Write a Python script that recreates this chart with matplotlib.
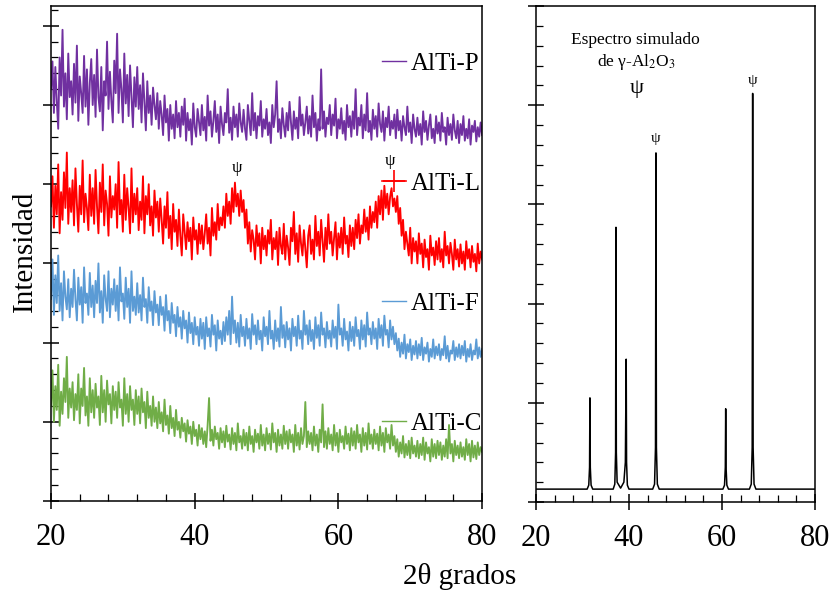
import numpy as np
import matplotlib
matplotlib.use("Agg")
import matplotlib.pyplot as plt
from matplotlib.lines import Line2D
from matplotlib.ticker import MultipleLocator

plt.rcParams["font.family"] = ["Liberation Serif", "DejaVu Serif"]
plt.rcParams["mathtext.fontset"] = "stix"

# 2theta grid of the measured patterns (0.2 deg step, 301 points)
TWO_THETA = np.round(np.linspace(20.0, 80.0, 301), 2)

# intensities x0.01, stacked as in the figure (one row = 3 degrees)
ALTI_P = [520, 555, 490, 548, 505, 470, 560, 512, 595, 498, 540, 482, 565, 510, 530,
          488, 552, 503, 575, 480, 536, 515, 490, 562, 498, 545, 475, 528, 558, 500,
          538, 485, 570, 510, 492, 548, 468, 530, 512, 580, 495, 542, 505, 478, 556,
          515, 590, 490, 545, 520, 478, 565, 502, 538, 486, 550, 512, 472, 535, 498,
          548, 495, 525, 478, 540, 505, 468, 530, 490, 512, 475, 522, 500, 482, 515,
          470, 505, 488, 462, 512, 478, 495, 455, 500, 470, 488, 458, 505, 472, 490,
          460, 498, 475, 508, 455, 490, 468, 482, 450, 502, 472, 460, 495, 478, 462,
          500, 468, 485, 455, 512, 474, 492, 460, 480, 505, 466, 488, 452, 498, 476,
          462, 490, 478, 520, 465, 484, 456, 498, 472, 488, 460, 502, 478, 466, 494,
          470, 456, 500, 480, 462, 515, 468, 490, 458, 486, 474, 505, 460, 482, 470,
          495, 462, 478, 452, 500, 472, 488, 530, 466, 482, 458, 496, 475, 460, 490,
          468, 504, 478, 456, 492, 470, 484, 458, 510, 474, 488, 462, 478, 498, 464,
          486, 460, 512, 472, 490, 455, 482, 468, 545, 470, 492, 460, 484, 476, 500,
          462, 488, 474, 508, 458, 482, 470, 496, 464, 480, 456, 500, 472, 486, 460,
          492, 470, 520, 462, 484, 474, 500, 458, 488, 468, 515, 466, 480, 456, 494,
          470, 486, 460, 502, 476, 466, 492, 455, 484, 472, 498, 462, 480, 470, 488,
          458, 494, 468, 480, 455, 486, 472, 462, 498, 466, 478, 452, 488, 470, 460,
          484, 462, 476, 450, 492, 466, 480, 456, 474, 488, 458, 470, 452, 486, 464,
          478, 455, 490, 466, 472, 450, 484, 462, 476, 456, 488, 468, 458, 480, 452,
          476, 462, 486, 455, 470, 458, 482, 450, 474, 466, 480, 454, 472, 460, 478,
          462]
ALTI_L = [372, 410, 345, 398, 362, 425, 338, 390, 355, 415, 370, 440, 350, 395, 365,
          405, 348, 420, 375, 340, 398, 362, 430, 352, 388, 370, 342, 412, 360, 395,
          350, 418, 372, 338, 402, 365, 425, 348, 392, 375, 335, 410, 358, 385, 368,
          400, 345, 428, 362, 380, 340, 412, 355, 395, 370, 338, 420, 352, 388, 362,
          395, 342, 378, 355, 410, 338, 385, 362, 400, 348, 372, 335, 392, 358, 378,
          340, 382, 355, 325, 372, 345, 390, 332, 360, 318, 375, 340, 355, 322, 368,
          335, 310, 362, 340, 318, 352, 328, 345, 305, 358, 330, 342, 312, 350, 325,
          348, 318, 338, 362, 325, 345, 310, 370, 335, 352, 330, 375, 342, 358, 348,
          372, 345, 388, 360, 378, 350, 395, 365, 402, 372, 388, 360, 392, 365, 380,
          345, 368, 325, 352, 315, 342, 330, 305, 348, 322, 338, 300, 345, 318, 335,
          310, 342, 325, 355, 305, 332, 318, 340, 298, 345, 322, 312, 350, 305, 335,
          320, 298, 345, 328, 365, 312, 338, 302, 348, 325, 310, 342, 318, 295, 335,
          348, 312, 330, 305, 360, 322, 340, 310, 355, 328, 302, 345, 318, 362, 325,
          340, 310, 332, 352, 305, 338, 320, 345, 312, 358, 325, 335, 308, 348, 322,
          345, 318, 355, 332, 362, 325, 348, 338, 368, 340, 358, 330, 372, 345, 365,
          352, 378, 345, 385, 362, 392, 355, 398, 370, 388, 362, 384, 395, 372, 382,
          365, 385, 350, 370, 335, 355, 318, 340, 325, 310, 345, 300, 332, 315, 328,
          300, 338, 312, 325, 295, 330, 308, 318, 292, 335, 310, 320, 298, 328, 305,
          332, 302, 318, 295, 340, 310, 322, 300, 326, 312, 292, 330, 305, 318, 296,
          324, 300, 315, 292, 328, 306, 318, 295, 322, 302, 312, 290, 325, 300, 315,
          305]
ALTI_F = [255, 305, 235, 285, 250, 310, 240, 275, 228, 290, 258, 242, 280, 232, 268,
          245, 292, 255, 228, 282, 248, 270, 225, 295, 250, 262, 235, 288, 245, 272,
          232, 278, 250, 300, 238, 265, 225, 285, 255, 240, 290, 232, 268, 248, 280,
          240, 272, 228, 295, 252, 262, 230, 282, 245, 268, 225, 290, 240, 258, 235,
          275, 238, 260, 228, 282, 245, 255, 225, 270, 240, 252, 222, 265, 238, 248,
          222, 258, 235, 245, 215, 260, 228, 240, 212, 250, 225, 235, 208, 245, 220,
          232, 205, 240, 218, 228, 200, 238, 212, 225, 198, 232, 210, 220, 196, 230,
          205, 225, 192, 232, 208, 218, 195, 235, 210, 222, 190, 228, 205, 215, 198,
          226, 202, 232, 210, 240, 198, 258, 212, 228, 200, 225, 195, 235, 208, 220,
          196, 230, 205, 218, 192, 236, 210, 222, 198, 228, 204, 215, 190, 232, 208,
          220, 198, 240, 205, 215, 192, 228, 202, 218, 195, 245, 206, 222, 194, 226,
          204, 218, 190, 230, 208, 220, 196, 234, 205, 215, 192, 240, 210, 222, 198,
          228, 202, 216, 192, 232, 206, 222, 196, 238, 210, 218, 194, 226, 205, 215,
          195, 228, 206, 220, 192, 248, 210, 218, 196, 230, 204, 214, 190, 226, 202,
          220, 196, 232, 208, 216, 192, 228, 204, 222, 195, 238, 210, 218, 198, 226,
          205, 218, 192, 230, 206, 222, 196, 234, 210, 216, 194, 228, 204, 220, 198,
          212, 190, 205, 182, 200, 186, 210, 180, 198, 188, 204, 178, 196, 185, 202,
          180, 198, 184, 206, 178, 194, 186, 200, 176, 192, 182, 204, 180, 195, 184,
          198, 178, 192, 184, 208, 180, 196, 176, 190, 186, 202, 178, 194, 182, 198,
          180, 196, 184, 202, 176, 192, 182, 198, 178, 190, 185, 204, 180, 194, 182,
          192]
ALTI_C = [120, 165, 100, 145, 115, 172, 95, 138, 110, 155, 125, 182, 105, 142, 118,
          150, 102, 135, 115, 160, 98, 142, 120, 168, 108, 132, 95, 155, 112, 140,
          105, 148, 118, 132, 96, 158, 112, 140, 100, 152, 122, 135, 98, 145, 115,
          138, 105, 150, 118, 128, 95, 155, 110, 135, 100, 145, 115, 128, 96, 140,
          110, 132, 98, 142, 112, 125, 92, 138, 105, 120, 95, 132, 100, 118, 92,
          125, 98, 112, 88, 128, 96, 108, 85, 120, 92, 105, 82, 115, 90, 100,
          80, 105, 88, 98, 75, 102, 85, 94, 72, 100, 82, 90, 70, 96, 78,
          92, 72, 88, 68, 96, 130, 76, 90, 70, 94, 78, 86, 66, 92, 74,
          88, 68, 95, 75, 84, 65, 92, 72, 86, 64, 98, 74, 82, 66, 90,
          70, 86, 64, 94, 72, 82, 62, 90, 74, 85, 66, 96, 70, 84, 64,
          92, 72, 85, 65, 98, 74, 86, 62, 90, 70, 84, 66, 95, 72, 88,
          66, 90, 74, 84, 62, 96, 70, 86, 65, 92, 72, 82, 125, 68, 88,
          72, 86, 64, 94, 70, 84, 62, 90, 74, 122, 68, 88, 66, 92, 72,
          84, 64, 96, 70, 86, 62, 90, 74, 82, 66, 94, 72, 85, 64, 92,
          70, 88, 66, 96, 74, 84, 62, 92, 70, 86, 65, 98, 72, 84, 66,
          90, 72, 85, 64, 94, 70, 86, 62, 92, 74, 84, 66, 96, 70, 82,
          62, 78, 56, 74, 60, 82, 55, 72, 58, 76, 54, 80, 60, 70, 56,
          76, 54, 72, 58, 80, 52, 74, 60, 68, 50, 78, 56, 72, 54, 76,
          58, 74, 52, 70, 56, 78, 54, 96, 60, 72, 50, 76, 58, 70, 54,
          74, 56, 68, 52, 78, 58, 72, 50, 76, 55, 70, 53, 74, 58, 68,
          62]

SERIES = ["AlTi-P", "AlTi-L", "AlTi-F", "AlTi-C"]
COLORS = ["#7030A0", "#FF0000", "#5B9BD5", "#70AD47"]

# simulated gamma-Al2O3 pattern
SIM_X = [20.0,
         31.0, 31.35, 31.52, 31.6, 31.68, 31.85, 32.2,
         36.6, 36.95, 37.12, 37.2, 37.28, 37.45,
         38.2, 38.9, 39.22, 39.4, 39.48, 39.65, 40.0,
         45.1, 45.5, 45.7, 45.8, 45.9, 46.1, 46.5,
         60.2, 60.55, 60.72, 60.8, 60.88, 61.05, 61.4,
         65.9, 66.3, 66.5, 66.6, 66.7, 66.9, 67.3,
         80.0]
SIM_Y = [0.13,
         0.13, 0.17, 0.35, 1.05, 0.35, 0.17, 0.13,
         0.13, 0.18, 0.5, 2.77, 0.5, 0.2,
         0.14, 0.2, 0.4, 1.44, 0.4, 0.17, 0.13,
         0.13, 0.18, 0.55, 3.52, 0.55, 0.18, 0.13,
         0.13, 0.17, 0.35, 0.94, 0.35, 0.17, 0.13,
         0.13, 0.18, 0.55, 4.12, 0.55, 0.18, 0.13,
         0.13]


def style(ax, ymax):
    ax.set_xlim(20, 80)
    ax.set_ylim(0, ymax)
    ax.xaxis.set_major_locator(MultipleLocator(20))
    ax.xaxis.set_minor_locator(MultipleLocator(4))
    ax.yaxis.set_major_locator(MultipleLocator(1))
    ax.yaxis.set_minor_locator(MultipleLocator(0.2))
    ax.tick_params(which="major", direction="inout", length=12, width=1.1,
                   labelsize=22, pad=10, labelleft=False, color="black")
    ax.tick_params(which="minor", direction="in", length=5, width=0.9)
    for s in ax.spines.values():
        s.set_linewidth(1.1)


fig = plt.figure(figsize=(8.31, 5.96), dpi=100)
ax1 = fig.add_axes([0.0614, 0.1594, 0.5187, 0.8305])
ax2 = fig.add_axes([0.645, 0.1577, 0.3357, 0.832])

for vals, col in zip([ALTI_P, ALTI_L, ALTI_F, ALTI_C], COLORS):
    ax1.plot(TWO_THETA, np.array(vals) / 100.0, color=col, lw=1.35)
style(ax1, 6.25)

handles = [Line2D([], [], color=COLORS[0], lw=1.0),
           Line2D([], [], color=COLORS[1], lw=1.2, marker="+", markersize=16, mew=1.2),
           Line2D([], [], color=COLORS[2], lw=1.0),
           Line2D([], [], color=COLORS[3], lw=1.0)]
ax1.legend(handles, SERIES, loc="upper right", bbox_to_anchor=(1.0, 0.907),
           frameon=False, fontsize=18, labelspacing=3.9, handlelength=0.95,
           handletextpad=0.2, borderaxespad=0.0, borderpad=0.0)

ax1.text(45.9, 4.2, "ψ", fontsize=12, ha="center", va="center")
ax1.text(67.2, 4.29, "ψ", fontsize=12, ha="center", va="center")

ax2.plot(SIM_X, SIM_Y, color="black", lw=1.1)
style(ax2, 5)
ax2.text(41.3, 4.66, "Espectro simulado", fontsize=12.5, ha="center", va="center")
ax2.text(41.5, 4.44, r"de γ-Al$_2$O$_3$", fontsize=12.5, ha="center", va="center")
ax2.text(41.7, 4.17, "ψ", fontsize=16, ha="center", va="center")
ax2.text(45.8, 3.67, "ψ", fontsize=11, ha="center", va="center")
ax2.text(66.5, 4.25, "ψ", fontsize=11, ha="center", va="center")

fig.text(25 / 831, 1 - 251 / 596, "Intensidad", rotation=90, fontsize=21,
         ha="center", va="center")
fig.text(460 / 831, 1 - 577 / 596, "2θ grados", fontsize=21, ha="center", va="center")

fig.savefig("out.png", dpi=100)
